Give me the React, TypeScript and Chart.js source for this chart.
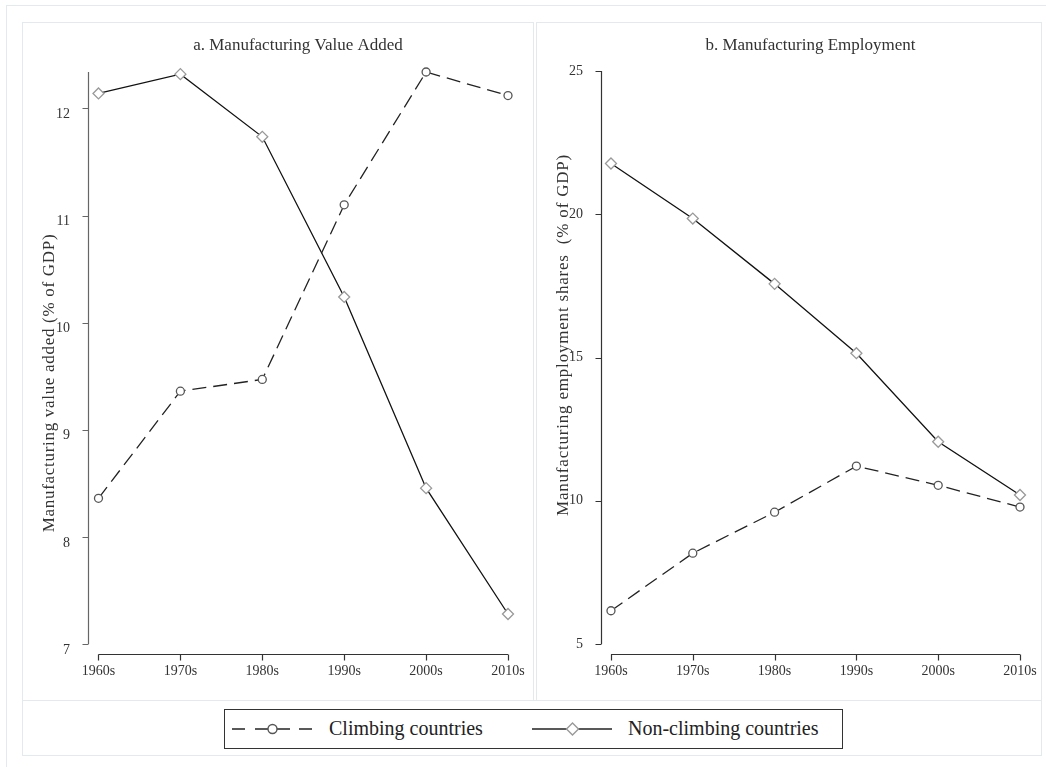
import React, { useEffect, useRef } from "react";
import { Chart, registerables } from "chart.js";

Chart.register(...registerables);

// ---------------- data ----------------
const decades = ["1960s", "1970s", "1980s", "1990s", "2000s", "2010s"];
const vaClimbing = [8.36, 9.36, 9.47, 11.1, 12.34, 12.12];
const vaNonClimbing = [12.14, 12.32, 11.735, 10.24, 8.455, 7.28];
const empClimbing = [6.16, 8.17, 9.6, 11.21, 10.54, 9.78];
const empNonClimbing = [21.77, 19.85, 17.57, 15.15, 12.06, 10.2];
const vaTicks = [7, 8, 9, 10, 11, 12];
const empTicks = [5, 10, 15, 20, 25];
const seriesNames = ["Climbing countries", "Non-climbing countries"];
const panelTitles = ["a. Manufacturing Value Added", "b. Manufacturing Employment"];
const yTitles = [
  "Manufacturing value added (% of GDP)",
  "Manufacturing employment shares  (% of GDP)",
];

const FONT = '"Liberation Serif", "Times New Roman", serif';

const stataPlugin = {
  id: "stata",
  beforeDatasetsDraw(chart: any, _args: any, opts: any) {
    const { ctx, chartArea, scales } = chart;
    const x = scales.x;
    const y = scales.y;
    ctx.save();
    // y axis
    ctx.strokeStyle = opts.axisColor;
    ctx.lineWidth = 1.2;
    const ax = Math.round(chartArea.left) + 0.5;
    ctx.beginPath();
    ctx.moveTo(ax, chartArea.top);
    ctx.lineTo(ax, chartArea.bottom);
    opts.yTicks.forEach((v: number) => {
      const py = Math.round(y.getPixelForValue(v)) + 0.5;
      ctx.moveTo(ax - 6, py);
      ctx.lineTo(ax, py);
    });
    ctx.stroke();
    // x axis
    ctx.strokeStyle = "#333";
    const xy = Math.round(chartArea.bottom + opts.xAxisGap) + 0.5;
    const x0 = x.getPixelForValue(0);
    const x1 = x.getPixelForValue(opts.nCats - 1);
    ctx.beginPath();
    ctx.moveTo(x0, xy);
    ctx.lineTo(x1, xy);
    for (let i = 0; i < opts.nCats; i++) {
      const px = Math.round(x.getPixelForValue(i)) + 0.5;
      ctx.moveTo(px, xy);
      ctx.lineTo(px, xy + 6);
    }
    ctx.stroke();
    // panel title
    ctx.fillStyle = "#333";
    ctx.font = `17px ${FONT}`;
    ctx.textAlign = "center";
    ctx.textBaseline = "middle";
    ctx.fillText(opts.title, (chartArea.left + chartArea.right) / 2, opts.titleY);
    // y title (letter-spaced, rotated)
    ctx.font = `${opts.yTitleSize}px ${FONT}`;
    try {
      (ctx as any).letterSpacing = opts.yTitleSpacing;
    } catch (e) {
      /* ignore */
    }
    ctx.translate(opts.yTitleX, opts.yTitleY);
    ctx.rotate(-Math.PI / 2);
    ctx.fillText(opts.yTitle, 0, 0);
    ctx.restore();
  },
};

type PanelProps = {
  left: number;
  width: number;
  climbing: number[];
  nonClimbing: number[];
  yTicks: number[];
  yMin: number;
  yMax: number;
  xMin: number;
  title: string;
  yTitle: string;
  yAxisWidth: number;
  padTop: number;
  padRight: number;
  labelOffset: number;
  axisColor: string;
  yTitleX: number;
  yTitleY: number;
  yTitleSize: number;
  yTitleSpacing: string;
};

function Panel(p: PanelProps) {
  const ref = useRef<HTMLCanvasElement>(null);
  useEffect(() => {
    if (!ref.current) return;
    const chart = new Chart(ref.current, {
      type: "line",
      data: {
        datasets: [
          {
            label: seriesNames[0],
            data: p.climbing.map((v, i) => ({ x: i, y: v })),
            borderColor: "#222",
            borderWidth: 1.3,
            borderDash: [14, 7],
            pointStyle: "circle",
            pointRadius: 4,
            pointBorderColor: "#555",
            pointBackgroundColor: "#fff",
            pointBorderWidth: 1.3,
            tension: 0,
            clip: false,
          } as any,
          {
            label: seriesNames[1],
            data: p.nonClimbing.map((v, i) => ({ x: i, y: v })),
            borderColor: "#111",
            borderWidth: 1.3,
            pointStyle: "rectRot",
            pointRadius: 5.5,
            pointBorderColor: "#999",
            pointBackgroundColor: "#fff",
            pointBorderWidth: 1.3,
            tension: 0,
            clip: false,
          } as any,
        ],
      },
      options: {
        animation: false,
        responsive: false,
        devicePixelRatio: 1,
        layout: { padding: { top: p.padTop, right: p.padRight, left: 0, bottom: 0 } },
        scales: {
          x: {
            type: "linear",
            min: p.xMin,
            max: decades.length - 1,
            border: { display: false },
            grid: { display: false },
            afterBuildTicks: (s: any) => {
              s.ticks = decades.map((_, i) => ({ value: i }));
            },
            afterFit: (s: any) => {
              s.height = 56;
              s.paddingLeft = 0;
              s.paddingRight = 0;
            },
            ticks: {
              autoSkip: false,
              maxRotation: 0,
              padding: 11,
              color: "#333",
              font: { family: FONT, size: 14 },
              callback: (v: any) => decades[v as number] ?? "",
            },
          },
          y: {
            type: "linear",
            min: p.yMin,
            max: p.yMax,
            border: { display: false },
            grid: { display: false },
            afterBuildTicks: (s: any) => {
              s.ticks = p.yTicks.map((v) => ({ value: v }));
            },
            afterFit: (s: any) => {
              s.width = p.yAxisWidth;
              s.paddingTop = 0;
              s.paddingBottom = 0;
            },
            ticks: {
              padding: 10,
              labelOffset: p.labelOffset,
              color: "#333",
              font: { family: FONT, size: 14 },
              callback: (v: any) => String(v),
            },
          },
        },
        plugins: {
          legend: { display: false },
          tooltip: { enabled: false },
          title: { display: false },
          stata: {
            axisColor: p.axisColor,
            yTicks: p.yTicks,
            xAxisGap: 10,
            nCats: decades.length,
            title: p.title,
            titleY: 24,
            yTitle: p.yTitle,
            yTitleX: p.yTitleX,
            yTitleY: p.yTitleY,
            yTitleSize: p.yTitleSize,
            yTitleSpacing: p.yTitleSpacing,
          },
        } as any,
      },
      plugins: [stataPlugin],
    });
    return () => chart.destroy();
  }, []);
  return (
    <canvas
      ref={ref}
      width={p.width}
      height={678}
      style={{ position: "absolute", left: p.left, top: 22, width: p.width, height: 678 }}
    />
  );
}

function LegendSample({ kind }: { kind: "circle" | "diamond" }) {
  return (
    <svg width={82} height={20} style={{ position: "absolute", left: 0, top: 0 }}>
      {kind === "circle" ? (
        <g stroke="#222" strokeWidth={1.5}>
          <line x1={0} y1={10} x2={13} y2={10} />
          <line x1={23} y1={10} x2={36} y2={10} />
          <line x1={45} y1={10} x2={58} y2={10} />
          <line x1={67} y1={10} x2={80} y2={10} />
          <circle cx={40.5} cy={10} r={4.5} fill="#fff" stroke="#555" strokeWidth={1.4} />
        </g>
      ) : (
        <g>
          <line x1={0} y1={10} x2={80} y2={10} stroke="#222" strokeWidth={1.5} />
          <polygon
            points="40.5,4 46.5,10 40.5,16 34.5,10"
            fill="#fff"
            stroke="#999"
            strokeWidth={1.4}
          />
        </g>
      )}
    </svg>
  );
}

export default function App() {
  const boxBorder = "1px solid #e3eaed";
  return (
    <div
      style={{
        position: "absolute",
        left: 0,
        top: 0,
        width: 1046,
        height: 767,
        overflow: "hidden",
        background: "#fff",
        fontFamily: FONT,
      }}
    >
      <div
        style={{
          position: "absolute",
          left: 6,
          top: 5,
          width: 1100,
          height: 800,
          border: boxBorder,
          boxSizing: "border-box",
        }}
      />
      <div
        style={{
          position: "absolute",
          left: 22,
          top: 22,
          width: 512,
          height: 679,
          border: boxBorder,
          boxSizing: "border-box",
        }}
      />
      <div
        style={{
          position: "absolute",
          left: 536,
          top: 22,
          width: 506,
          height: 679,
          border: boxBorder,
          boxSizing: "border-box",
        }}
      />
      <div
        style={{
          position: "absolute",
          left: 22,
          top: 700,
          width: 1020,
          height: 56,
          border: boxBorder,
          boxSizing: "border-box",
        }}
      />
      <Panel
        left={22}
        width={511}
        climbing={vaClimbing}
        nonClimbing={vaNonClimbing}
        yTicks={vaTicks}
        yMin={7}
        yMax={12.34}
        xMin={-0.128}
        title={panelTitles[0]}
        yTitle={yTitles[0]}
        yAxisWidth={66}
        padTop={50}
        padRight={25}
        labelOffset={6}
        axisColor="#666"
        yTitleX={28}
        yTitleY={361}
        yTitleSize={17}
        yTitleSpacing="0.7px"
      />
      <Panel
        left={536}
        width={505}
        climbing={empClimbing}
        nonClimbing={empNonClimbing}
        yTicks={empTicks}
        yMin={5}
        yMax={25}
        xMin={-0.122}
        title={panelTitles[1]}
        yTitle={yTitles[1]}
        yAxisWidth={65}
        padTop={49}
        padRight={21}
        labelOffset={0}
        axisColor="#333"
        yTitleX={28}
        yTitleY={313}
        yTitleSize={17}
        yTitleSpacing="0.8px"
      />
      <div
        style={{
          position: "absolute",
          left: 224,
          top: 709,
          width: 619,
          height: 40,
          border: "1.5px solid #333",
          boxSizing: "border-box",
        }}
      >
        <div style={{ position: "absolute", left: 7, top: 9 }}>
          <LegendSample kind="circle" />
        </div>
        <div
          style={{
            position: "absolute",
            left: 104,
            top: 7,
            fontSize: 20,
            lineHeight: "22px",
            color: "#222",
            whiteSpace: "nowrap",
          }}
        >
          {seriesNames[0]}
        </div>
        <div style={{ position: "absolute", left: 307, top: 9 }}>
          <LegendSample kind="diamond" />
        </div>
        <div
          style={{
            position: "absolute",
            left: 403,
            top: 7,
            fontSize: 20,
            lineHeight: "22px",
            color: "#222",
            whiteSpace: "nowrap",
          }}
        >
          {seriesNames[1]}
        </div>
      </div>
    </div>
  );
}
